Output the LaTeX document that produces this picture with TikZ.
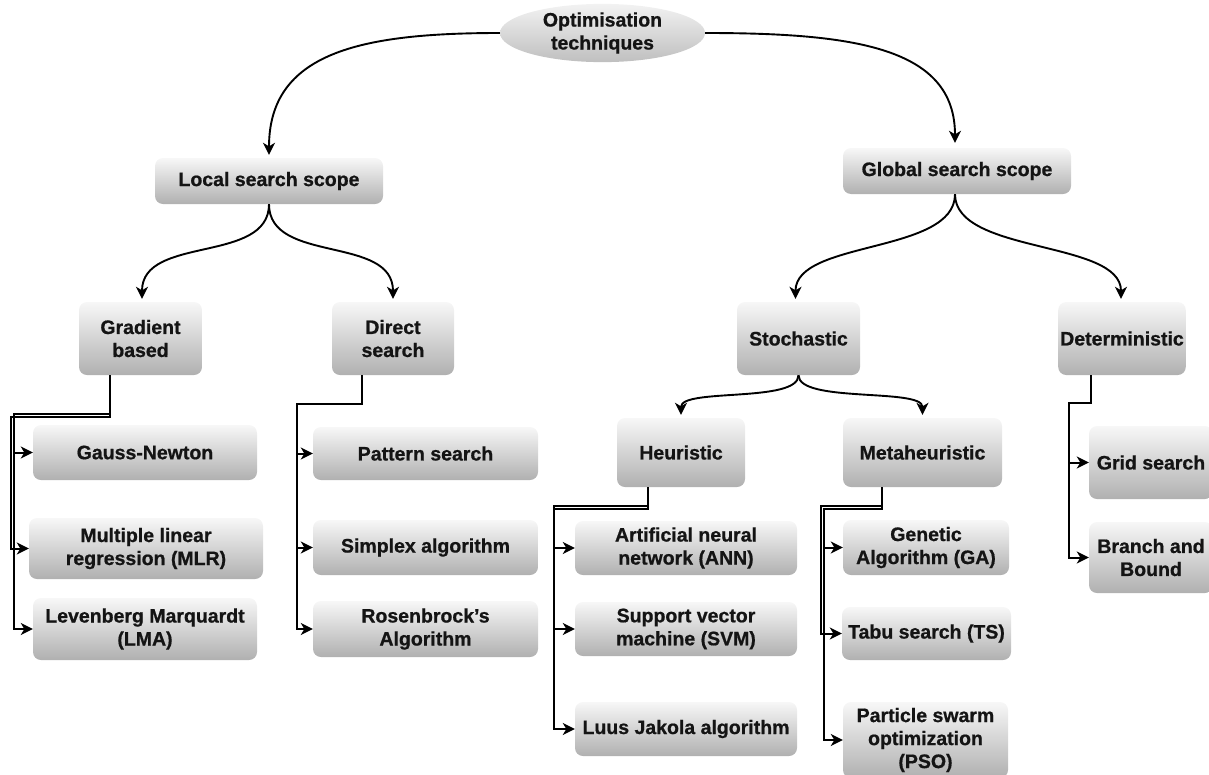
\documentclass[tikz,border=0pt]{standalone}
\usepackage{fontspec}
\setmainfont{Liberation Sans}[BoldFeatures={FakeBold=0.8}]
\usetikzlibrary{arrows.meta,shapes.geometric}

\tikzset{
  box/.style={rounded corners=8pt, top color=gray!6, bottom color=gray!62,
    draw=none, align=center, inner sep=2pt, text=black!92,
    font=\bfseries\fontsize{19.5}{23}\selectfont},
  rootnode/.style={ellipse, top color=gray!10, bottom color=gray!50,
    draw=none, align=center, inner sep=0pt, text=black!92,
    font=\bfseries\fontsize{19.5}{23}\selectfont},
  tip/.style={-{Stealth[length=12pt,width=12pt,inset=3.5pt]}},
  conn/.style={tip, line width=2pt},
  curv/.style={tip, line width=1.9pt, shorten >=3pt}
}

\begin{document}
\begin{tikzpicture}[x=1pt,y=-1pt]
\useasboundingbox (0,0) rectangle (1209,774);
\clip (0,0) rectangle (1209,774);

% root and first level
\node[rootnode, minimum width=205, minimum height=54] (root) at (602.5,33) {Optimisation\\techniques};
\node[box, minimum width=228, minimum height=46] (local) at (269,181) {Local search scope};
\node[box, minimum width=228, minimum height=46] (global) at (957,171) {Global search scope};

% second level
\node[box, minimum width=123, minimum height=73] (grad) at (140.5,338.5) {Gradient\\based};
\node[box, minimum width=122, minimum height=73] (direct) at (393,338.5) {Direct\\search};
\node[box, minimum width=123, minimum height=73] (stoch) at (798.5,338.5) {Stochastic};
\node[box, minimum width=122, minimum height=73] (det) at (1122,338.5) {Deterministic};

% third level
\node[box, minimum width=128, minimum height=69] (heur) at (681,452.5) {Heuristic};
\node[box, minimum width=159, minimum height=69] (meta) at (922.5,452.5) {Metaheuristic};

% gradient based methods
\node[box, minimum width=224, minimum height=55] (gauss) at (145,452.5) {Gauss-Newton};
\node[box, minimum width=234, minimum height=61] (mlr) at (146,548.5) {Multiple linear\\regression (MLR)};
\node[box, minimum width=224, minimum height=62] (lma) at (145,629) {Levenberg Marquardt\\(LMA)};

% direct search methods
\node[box, minimum width=225, minimum height=53] (pattern) at (425.5,453.5) {Pattern search};
\node[box, minimum width=225, minimum height=55] (simplex) at (425.5,547.5) {Simplex algorithm};
\node[box, minimum width=225, minimum height=56] (rosen) at (425.5,629) {Rosenbrock’s\\Algorithm};

% heuristic methods
\node[box, minimum width=222, minimum height=54] (ann) at (686,548) {Artificial neural\\network (ANN)};
\node[box, minimum width=222, minimum height=54] (svm) at (686,629) {Support vector\\machine (SVM)};
\node[box, minimum width=222, minimum height=54] (luus) at (686,729) {Luus Jakola algorithm};

% metaheuristic methods
\node[box, minimum width=166, minimum height=55] (ga) at (926,547.5) {Genetic\\Algorithm (GA)};
\node[box, minimum width=169, minimum height=53] (ts) at (926.5,633.5) {Tabu search (TS)};
\node[box, minimum width=165, minimum height=76] (pso) at (925.5,740) {Particle swarm\\optimization\\(PSO)};

% deterministic methods
\node[box, minimum width=124, minimum height=73] (grid) at (1151,462.5) {Grid search};
\node[box, minimum width=124, minimum height=71] (branch) at (1151,557.5) {Branch and\\Bound};

% curved connectors
\draw[curv] (root.west) .. controls +(-140,0) and +(0,-105) .. (local.north);
\draw[curv, shorten >=5pt] (root.east) .. controls +(150,0) and +(0,-100) .. ([xshift=-2pt]global.north);
\draw[curv] (local.south) .. controls +(0,60) and +(0,-67) .. ([xshift=1.5pt]grad.north);
\draw[curv] (local.south) .. controls +(0,60) and +(0,-67) .. (direct.north);
\draw[curv] ([xshift=-2pt]global.south) .. controls +(0,60) and +(0,-62) .. ([xshift=-3pt]stoch.north);
\draw[curv] ([xshift=-2pt]global.south) .. controls +(0,60) and +(0,-62) .. ([xshift=-1pt]det.north);
\draw[curv] (stoch.south) .. controls +(0,28) and +(0,-30) .. (heur.north);
\draw[curv] (stoch.south) .. controls +(0,28) and +(0,-30) .. (meta.north);

% elbow connectors: gradient based
\draw[conn] ([xshift=-30.5pt]grad.south) |- (14,413.5) |- (gauss.west);
\draw[conn] ([xshift=-30.5pt]grad.south) |- (11,416.5) |- (mlr.west);
\draw[conn] ([xshift=-30.5pt]grad.south) |- (14,413.5) |- (lma.west);

% elbow connectors: direct search
\draw[conn] ([xshift=-31pt]direct.south) |- (297,404) |- (pattern.west);
\draw[conn] ([xshift=-31pt]direct.south) |- (297,404) |- (simplex.west);
\draw[conn] ([xshift=-31pt]direct.south) |- (297,404) |- (rosen.west);

% elbow connectors: heuristic
\draw[conn] ([xshift=-33pt]heur.south) |- (554,508.5) |- (ann.west);
\draw[conn] ([xshift=-33pt]heur.south) |- (554,505.5) |- (svm.west);
\draw[conn] ([xshift=-33pt]heur.south) |- (554,508.5) |- (luus.west);

% elbow connectors: metaheuristic
\draw[conn] ([xshift=-40.5pt]meta.south) |- (823.5,508.5) |- (ga.west);
\draw[conn] ([xshift=-40.5pt]meta.south) |- (820.5,505.5) |- (ts.west);
\draw[conn] ([xshift=-40.5pt]meta.south) |- (823.5,508.5) |- (pso.west);

% elbow connectors: deterministic
\draw[conn] ([xshift=-31pt]det.south) |- (1069,403) |- (grid.west);
\draw[conn] ([xshift=-31pt]det.south) |- (1069,403) |- (branch.west);
\end{tikzpicture}
\end{document}
